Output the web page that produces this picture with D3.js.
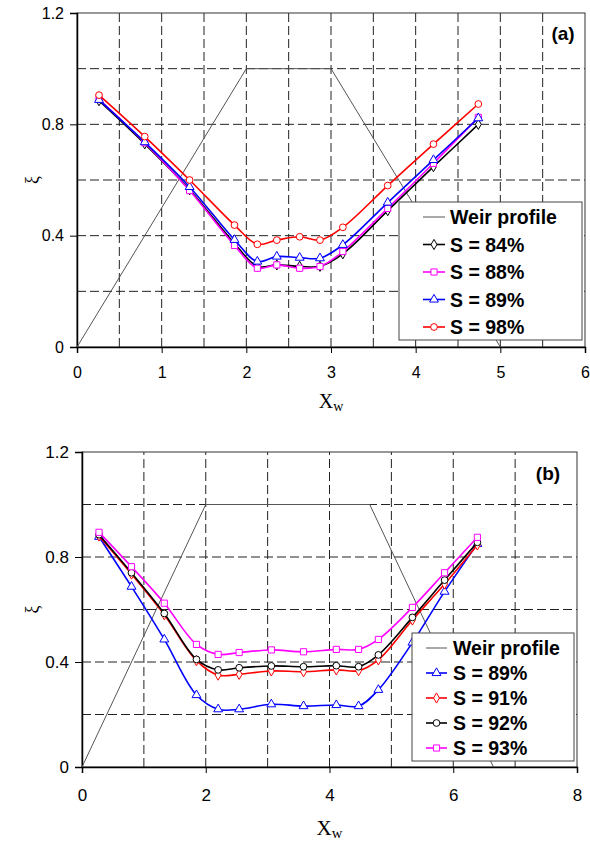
<!DOCTYPE html>
<html>
<head>
<meta charset="utf-8">
<script src="https://cdn.jsdelivr.net/npm/d3@7"></script>
<style>
  body { margin: 0; background: #fff; }
</style>
</head>
<body>
<svg id="chart" width="590" height="845"></svg>
<script>
// ---- panel (a) data ----
var xA = [0.26, 0.80, 1.33, 1.86, 2.13, 2.36, 2.63, 2.87, 3.14, 3.67, 4.21, 4.74];
var s84a = [0.885, 0.730, 0.565, 0.372, 0.290, 0.295, 0.290, 0.290, 0.335, 0.490, 0.648, 0.800];
var s88a = [0.890, 0.734, 0.562, 0.365, 0.283, 0.295, 0.283, 0.289, 0.343, 0.498, 0.660, 0.825];
var s89a = [0.888, 0.736, 0.575, 0.385, 0.307, 0.325, 0.321, 0.319, 0.367, 0.519, 0.672, 0.822];
var s98a = [0.905, 0.756, 0.600, 0.438, 0.369, 0.384, 0.396, 0.384, 0.430, 0.580, 0.729, 0.873];
var weirAx = [0, 2, 3, 5];
var weirAy = [0, 1, 1, 0];
var xTicksA = [0, 1, 2, 3, 4, 5, 6];

// ---- panel (b) data ----
var xB = [0.275, 0.80, 1.33, 1.85, 2.20, 2.54, 3.06, 3.58, 4.11, 4.47, 4.79, 5.34, 5.86, 6.39];
var s89b = [0.877, 0.687, 0.486, 0.274, 0.220, 0.220, 0.239, 0.232, 0.236, 0.232, 0.294, 0.474, 0.668, 0.850];
var s91b = [0.880, 0.735, 0.580, 0.405, 0.350, 0.353, 0.366, 0.363, 0.370, 0.367, 0.408, 0.560, 0.697, 0.846];
var s92b = [0.885, 0.740, 0.585, 0.410, 0.370, 0.378, 0.385, 0.382, 0.386, 0.382, 0.427, 0.570, 0.712, 0.856];
var s93b = [0.894, 0.763, 0.624, 0.467, 0.429, 0.436, 0.446, 0.439, 0.448, 0.448, 0.486, 0.608, 0.740, 0.875];
var weirBx = [0, 2, 4.65, 6.65];
var weirBy = [0, 1, 1, 0];
var xTicksB = [0, 2, 4, 6, 8];

var yTicks = [0, 0.4, 0.8, 1.2];

var SANS = "Arial, 'Liberation Sans', sans-serif";
var SERIF = "'Times New Roman', 'Liberation Serif', 'DejaVu Serif', serif";

var svg = d3.select('#chart');

function drawMarker(g, shape, x, y, color) {
  var sym;
  if ( shape == 'diamond' ) sym = d3.symbol().type(d3.symbolDiamond).size(30);
  else if ( shape == 'square' ) sym = d3.symbol().type(d3.symbolSquare).size(38);
  else if ( shape == 'triangle' ) sym = d3.symbol().type(d3.symbolTriangle).size(34);
  else sym = d3.symbol().type(d3.symbolCircle).size(36);
  g.append('path').attr('d', sym())
    .attr('transform', 'translate(' + x + ',' + y + ')')
    .attr('fill', 'white').attr('stroke', color).attr('stroke-width', 1);
}

function drawPanel(p) {
  var g = svg.append('g');
  var sx = d3.scaleLinear().domain([0, p.xmax]).range([p.left, p.right]);
  var sy = d3.scaleLinear().domain([0, 1.2]).range([p.bottom, p.top]);

  // grid (dashed)
  for ( var v = p.gridStep; v < p.xmax - 1e-6; v += p.gridStep ) {
    g.append('line').attr('x1', sx(v)).attr('x2', sx(v)).attr('y1', sy(0)).attr('y2', sy(1.2))
      .attr('stroke', '#222').attr('stroke-width', 1).attr('stroke-dasharray', '9,4');
  }
  for ( var k = 1; k < 6; k++ ) {
    var yv = k * 0.2;
    g.append('line').attr('x1', sx(0)).attr('x2', sx(p.xmax)).attr('y1', sy(yv)).attr('y2', sy(yv))
      .attr('stroke', '#222').attr('stroke-width', 1).attr('stroke-dasharray', '9,4');
  }

  // frame
  g.append('rect').attr('x', p.left).attr('y', p.top)
    .attr('width', p.right - p.left).attr('height', p.bottom - p.top)
    .attr('fill', 'none').attr('stroke', '#333').attr('stroke-width', 1);

  // axes
  var xAxis = d3.axisBottom(sx).tickValues(p.xTicks).tickSize(6).tickPadding(p.xPad)
    .tickFormat(d3.format('d'));
  var yAxis = d3.axisLeft(sy).tickValues(yTicks).tickSize(7).tickPadding(6)
    .tickFormat(function(d) { return d == 0 ? '0' : d3.format('.1f')(d); });
  var gx = g.append('g').attr('transform', 'translate(0,' + p.bottom + ')').call(xAxis);
  var gy = g.append('g').attr('transform', 'translate(' + p.left + ',0)').call(yAxis);
  for ( var ga of [gx, gy] ) {
    ga.select('.domain').attr('stroke', '#000').attr('stroke-width', 1.5);
    ga.selectAll('.tick line').attr('stroke', '#000').attr('stroke-width', 1);
    ga.selectAll('.tick text').attr('fill', '#000')
      .style('font-size', p.fs + 'px').style('font-family', SANS);
  }

  // axis titles
  var xt = g.append('text').attr('x', (p.left + p.right) / 2).attr('y', p.xTitleY)
    .attr('text-anchor', 'middle').style('font-family', SERIF)
    .style('font-size', p.titleFs + 'px');
  xt.append('tspan').text('X');
  xt.append('tspan').text('w').style('font-size', (p.titleFs * 0.7) + 'px').attr('dy', 3);
  g.append('text').text('ξ')
    .attr('transform', 'translate(' + 38 + ',' + ((p.top + p.bottom) / 2) + ') rotate(-90)')
    .attr('text-anchor', 'middle').style('font-family', SERIF)
    .style('font-size', '18px');

  // weir profile
  var weir = p.weirX.map((x, i) => [sx(x), sy(p.weirY[i])]);
  g.append('path').attr('d', d3.line()(weir))
    .attr('fill', 'none').attr('stroke', '#555').attr('stroke-width', 1);

  // series
  var line = d3.line().curve(d3.curveCatmullRom.alpha(0.5));
  for ( var s of p.series ) {
    var pts = p.x.map((x, i) => [sx(x), sy(s.values[i])]);
    g.append('path').attr('d', line(pts))
      .attr('fill', 'none').attr('stroke', s.color).attr('stroke-width', 1.6);
    for ( var pt of pts ) drawMarker(g, s.shape, pt[0], pt[1], s.color);
  }

  // panel label
  g.append('text').text(p.label).attr('x', p.labelX).attr('y', p.labelY)
    .attr('text-anchor', 'middle')
    .style('font-size', '19px').style('font-weight', 'bold').style('font-family', SANS);

  // legend
  var L = p.legend;
  g.append('rect').attr('x', L.x).attr('y', L.y).attr('width', L.w).attr('height', L.h)
    .attr('fill', 'white').attr('stroke', '#444').attr('stroke-width', 1);
  var items = [{name: 'Weir profile', color: '#555', shape: null}].concat(p.series);
  items.forEach(function(it, i) {
    var yy = L.y + L.first + i * L.step;
    g.append('line').attr('x1', L.x + L.lx1).attr('x2', L.x + L.lx2).attr('y1', yy).attr('y2', yy)
      .attr('stroke', it.color).attr('stroke-width', it.shape ? 1.6 : 1);
    if ( it.shape ) drawMarker(g, it.shape, L.x + (L.lx1 + L.lx2) / 2, yy, it.color);
    g.append('text').text(it.name).attr('x', L.x + L.tx).attr('y', yy + 7)
      .attr('fill', '#000')
      .style('font-size', '19.5px').style('font-weight', 'bold').style('font-family', SANS);
  });
}

drawPanel({
  left: 77, right: 585, top: 13, bottom: 347, xmax: 6, gridStep: 0.5, xTicks: xTicksA, xPad: 14,
  fs: 16, titleFs: 20, xTitleY: 408, label: '(a)', labelX: 563, labelY: 40,
  x: xA, weirX: weirAx, weirY: weirAy,
  series: [
    {name: 'S = 84%', values: s84a, color: '#000000', shape: 'diamond'},
    {name: 'S = 88%', values: s88a, color: '#ff00ff', shape: 'square'},
    {name: 'S = 89%', values: s89a, color: '#0000ff', shape: 'triangle'},
    {name: 'S = 98%', values: s98a, color: '#ff0000', shape: 'circle'}
  ],
  legend: {x: 399, y: 202, w: 183, h: 138, first: 15, step: 27.5, lx1: 24, lx2: 46, tx: 51}
});

drawPanel({
  left: 82, right: 577, top: 452, bottom: 767, xmax: 8, gridStep: 1, xTicks: xTicksB, xPad: 16,
  fs: 17, titleFs: 21, xTitleY: 835, label: '(b)', labelX: 548, labelY: 480,
  x: xB, weirX: weirBx, weirY: weirBy,
  series: [
    {name: 'S = 89%', values: s89b, color: '#0000ff', shape: 'triangle'},
    {name: 'S = 91%', values: s91b, color: '#ff0000', shape: 'diamond'},
    {name: 'S = 92%', values: s92b, color: '#000000', shape: 'circle'},
    {name: 'S = 93%', values: s93b, color: '#ff00ff', shape: 'square'}
  ],
  legend: {x: 412, y: 633, w: 162, h: 128, first: 15, step: 25, lx1: 14, lx2: 35, tx: 41}
});
</script>
</body>
</html>
